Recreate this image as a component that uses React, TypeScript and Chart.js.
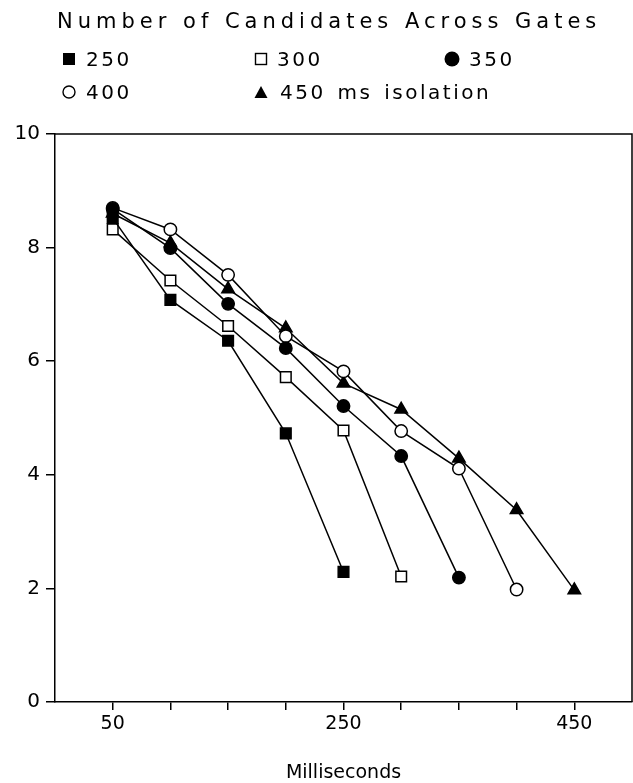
import React, { useEffect, useRef } from "react";
import { Chart, registerables } from "chart.js";

Chart.register(...registerables);

// ---- data ----
const X_VALUES = [50, 100, 150, 200, 250, 300, 350, 400, 450];
const SERIES_250 = [8.52, 7.08, 6.36, 4.73, 2.29];
const SERIES_300 = [8.32, 7.42, 6.62, 5.72, 4.78, 2.21];
const SERIES_350 = [8.68, 7.99, 7.01, 6.23, 5.21, 4.33, 2.19];
const SERIES_400 = [8.7, 8.32, 7.52, 6.44, 5.82, 4.77, 4.11, 1.98];
const SERIES_450 = [8.6, 8.08, 7.27, 6.58, 5.61, 5.15, 4.29, 3.38, 1.97];
const SERIES_LABELS = ["250", "300", "350", "400", "450 ms isolation"];
const X_TICKS = [50, 100, 150, 200, 250, 300, 350, 400, 450];
const X_LABELED_TICKS = [50, 250, 450];
const Y_TICKS = [0, 2, 4, 6, 8, 10];
const TITLE = "Number of Candidates Across Gates";
const X_TITLE = "Milliseconds";

const FONT = "'DejaVu Sans', sans-serif";

type Marker = "fsquare" | "osquare" | "fcircle" | "ocircle" | "triangle";

const MARKERS: Marker[] = ["fsquare", "osquare", "fcircle", "ocircle", "triangle"];

function pointCfg(m: Marker) {
  switch (m) {
    case "fsquare":
      return { pointStyle: "rect", pointRadius: 7.5, pointBackgroundColor: "#000" };
    case "osquare":
      return { pointStyle: "rect", pointRadius: 7.5, pointBackgroundColor: "#fff" };
    case "fcircle":
      return { pointStyle: "circle", pointRadius: 6.2, pointBackgroundColor: "#000" };
    case "ocircle":
      return { pointStyle: "circle", pointRadius: 6.2, pointBackgroundColor: "#fff" };
    default:
      return { pointStyle: "triangle", pointRadius: 7.2, pointBackgroundColor: "#000" };
  }
}

function LegendMarker({ m }: { m: Marker }) {
  const size = m === "fcircle" ? 16 : 14;
  let shape: React.ReactNode = null;
  if (m === "fsquare") shape = <rect x={1} y={1} width={12} height={12} fill="#000" />;
  if (m === "osquare")
    shape = <rect x={1.5} y={1.5} width={11} height={11} fill="#fff" stroke="#000" strokeWidth={1.4} />;
  if (m === "fcircle") shape = <circle cx={8} cy={8} r={7.5} fill="#000" />;
  if (m === "ocircle") shape = <circle cx={7} cy={7} r={6} fill="#fff" stroke="#000" strokeWidth={1.4} />;
  if (m === "triangle") shape = <polygon points="7,1 13.5,13 0.5,13" fill="#000" />;
  return (
    <svg width={size} height={size} style={{ display: "block" }}>
      {shape}
    </svg>
  );
}

const LEGEND_POS = [
  { left: 62, top: 59, gap: 10 },
  { left: 254, top: 59, gap: 9 },
  { left: 444, top: 59, gap: 9 },
  { left: 62, top: 92, gap: 10 },
  { left: 254, top: 92, gap: 12 },
];

const framePlugin = {
  id: "frameBox",
  afterDatasetsDraw(chart: any) {
    const { ctx, chartArea } = chart;
    ctx.save();
    ctx.strokeStyle = "#000";
    ctx.lineWidth = 1.5;
    ctx.beginPath();
    ctx.moveTo(chartArea.left, chartArea.top);
    ctx.lineTo(chartArea.right, chartArea.top);
    ctx.lineTo(chartArea.right, chartArea.bottom);
    ctx.stroke();
    ctx.restore();
  },
};

export default function App() {
  const canvasRef = useRef<HTMLCanvasElement | null>(null);

  useEffect(() => {
    if (!canvasRef.current) return;
    const all = [SERIES_250, SERIES_300, SERIES_350, SERIES_400, SERIES_450];
    const datasets = all.map((vals, i) => ({
      label: SERIES_LABELS[i],
      data: vals.map((v, j) => ({ x: X_VALUES[j], y: v })),
      borderColor: "#000",
      borderWidth: 1.5,
      pointBorderColor: "#000",
      pointBorderWidth: 1.5,
      fill: false,
      tension: 0,
      ...pointCfg(MARKERS[i]),
    }));

    const chart = new Chart(canvasRef.current, {
      type: "line",
      data: { datasets: datasets as any },
      options: {
        animation: false,
        responsive: false,
        layout: { autoPadding: false, padding: { top: 134, right: 1, left: 0, bottom: 0 } },
        plugins: {
          legend: { display: false },
          title: { display: false },
          tooltip: { enabled: false },
        },
        scales: {
          x: {
            type: "linear",
            min: 0,
            max: 500,
            afterBuildTicks: (scale: any) => {
              scale.ticks = X_TICKS.map((v) => ({ value: v }));
            },
            afterFit: (scale: any) => {
              scale.height = 81;
              scale.paddingLeft = 0;
              scale.paddingRight = 0;
            },
            ticks: {
              autoSkip: false,
              maxRotation: 0,
              padding: 3,
              color: "#000",
              font: { family: FONT, size: 19 },
              callback: (v: any) => (X_LABELED_TICKS.includes(Number(v)) ? String(v) : ""),
            },
            grid: {
              drawOnChartArea: false,
              drawTicks: true,
              tickLength: 8,
              color: "#000",
              lineWidth: 1.5,
            },
            border: { display: true, color: "#000", width: 1.5 },
            title: {
              display: true,
              text: X_TITLE,
              color: "#000",
              font: { family: FONT, size: 19, lineHeight: 1 },
              padding: { top: 0, bottom: 0 },
            },
          },
          y: {
            type: "linear",
            min: 0,
            max: 10,
            afterBuildTicks: (scale: any) => {
              scale.ticks = Y_TICKS.map((v) => ({ value: v }));
            },
            afterFit: (scale: any) => {
              scale.width = 55;
            },
            ticks: {
              padding: 6,
              color: "#000",
              font: { family: FONT, size: 20 },
            },
            grid: {
              drawOnChartArea: false,
              drawTicks: true,
              tickLength: 9,
              color: "#000",
              lineWidth: 1.5,
            },
            border: { display: true, color: "#000", width: 1.5 },
          },
        },
      } as any,
      plugins: [framePlugin],
    });
    return () => chart.destroy();
  }, []);

  return (
    <div
      style={{
        position: "absolute",
        left: 0,
        top: 0,
        width: 633,
        height: 783,
        background: "#fff",
        fontFamily: FONT,
        color: "#000",
      }}
    >
      <canvas ref={canvasRef} width={633} height={783} style={{ position: "absolute", left: 0, top: 0 }} />
      <div
        style={{
          position: "absolute",
          left: 57,
          top: 11,
          fontSize: 21,
          lineHeight: "21px",
          letterSpacing: "5px",
          whiteSpace: "nowrap",
        }}
      >
        {TITLE}
      </div>
      {SERIES_LABELS.map((lab, i) => (
        <div
          key={lab}
          style={{
            position: "absolute",
            left: LEGEND_POS[i].left,
            top: LEGEND_POS[i].top - 10,
            height: 20,
            display: "flex",
            alignItems: "center",
            whiteSpace: "nowrap",
          }}
        >
          <LegendMarker m={MARKERS[i]} />
          <span
            style={{
              marginLeft: LEGEND_POS[i].gap,
              fontSize: 20,
              lineHeight: "20px",
              letterSpacing: "2.5px",
              wordSpacing: "3px",
            }}
          >
            {lab}
          </span>
        </div>
      ))}
    </div>
  );
}
